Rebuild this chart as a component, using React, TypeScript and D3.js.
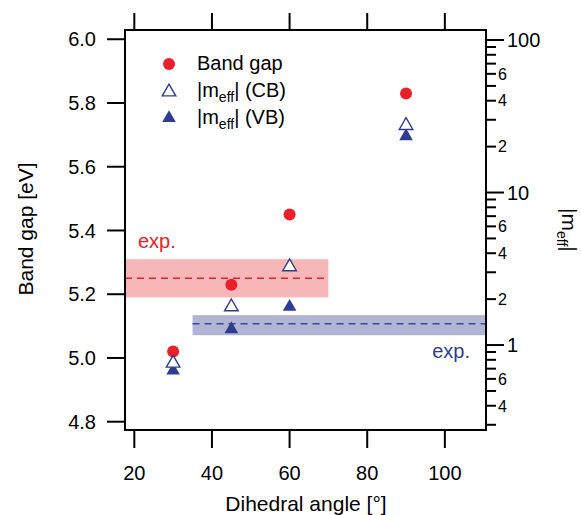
import React from "react";
import * as d3 from "d3";

const angles = [30, 45, 60, 90];
const bandGap = [5.02, 5.23, 5.45, 5.83];
const meffCB = [0.76, 1.78, 3.26, 27.5];
const meffVB = [0.68, 1.27, 1.78, 23.4];
const leftTicks = [4.8, 5.0, 5.2, 5.4, 5.6, 5.8, 6.0];
const bottomTicks = [20, 40, 60, 80, 100];
const rightMajor = [1, 10, 100];
const rightMinor = [0.3, 0.4, 0.5, 0.6, 0.7, 0.8, 0.9, 2, 3, 4, 5, 6, 7, 8, 9, 20, 30, 40, 50, 60, 70, 80, 90];
const rightMinorLabeled = [0.4, 0.6, 2, 4, 6, 20, 40, 60];
const expGap = { center: 5.25, lo: 5.19, hi: 5.31, xFrom: 0, xTo: 70 };
const expMeff = { center: 1.38, lo: 1.16, hi: 1.57, xFrom: 35, xTo: 120 };

const RED = "#e8202a";
const BLUE = "#2f3d8f";
const FONT = "'Liberation Sans', Arial, Helvetica, sans-serif";

export default function App() {
  const L = 125, R = 486, T = 30, B = 430;
  const x = d3.scaleLinear().domain([17.6, 110.6]).range([L, R]);
  const y = d3.scaleLinear().domain([4.774, 6.029]).range([B, T]);
  const yr = d3.scaleLog().domain([10 ** -0.557, 10 ** 2.0656]).range([B, T]);
  const tri = d3.symbol().type(d3.symbolTriangle).size(80)();
  const clampX = (v: number) => Math.max(L, Math.min(R, x(v)));

  const minorLabel = (v: number) => {
    const e = Math.floor(Math.log10(v) + 1e-9);
    return String(Math.round(v / 10 ** e));
  };

  return (
    <svg width={581} height={515} style={{ position: "absolute", left: 0, top: 0 }} fontFamily={FONT}>
      <rect width={581} height={515} fill="#fff" />
      {/* bands */}
      <rect x={clampX(expGap.xFrom)} y={y(expGap.hi)} width={clampX(expGap.xTo) - clampX(expGap.xFrom)} height={y(expGap.lo) - y(expGap.hi)} fill="#f7b7b9" />
      <line x1={clampX(expGap.xFrom)} x2={clampX(expGap.xTo)} y1={y(expGap.center)} y2={y(expGap.center)} stroke={RED} strokeWidth={1.5} strokeDasharray="7,5" />
      <rect x={clampX(expMeff.xFrom)} y={yr(expMeff.hi)} width={clampX(expMeff.xTo) - clampX(expMeff.xFrom)} height={yr(expMeff.lo) - yr(expMeff.hi)} fill="#b2b4d4" />
      <line x1={clampX(expMeff.xFrom)} x2={clampX(expMeff.xTo)} y1={yr(expMeff.center)} y2={yr(expMeff.center)} stroke="#3a4a9a" strokeWidth={1.5} strokeDasharray="7,5" />
      <text x={138} y={248} fontSize={20} fill={RED}>exp.</text>
      <text x={470} y={358} fontSize={20} fill={BLUE} textAnchor="end">exp.</text>

      {/* markers */}
      {angles.map((a, i) => (
        <g key={i}>
          <circle cx={x(a)} cy={y(bandGap[i])} r={6} fill={RED} />
          <path d={tri} transform={`translate(${x(a)},${yr(meffVB[i])})`} fill={BLUE} />
          <path d={tri} transform={`translate(${x(a)},${yr(meffCB[i])})`} fill="#fff" stroke={BLUE} strokeWidth={1.4} />
        </g>
      ))}

      {/* frame */}
      <rect x={L} y={T} width={R - L} height={B - T} fill="none" stroke="#000" strokeWidth={2} />

      {/* left axis */}
      {leftTicks.map((v) => (
        <g key={v}>
          <line x1={107} x2={L} y1={y(v)} y2={y(v)} stroke="#000" strokeWidth={2} />
          <text x={96} y={y(v)} dy="0.36em" fontSize={20} textAnchor="end">{v.toFixed(1)}</text>
        </g>
      ))}
      {/* bottom / top */}
      {bottomTicks.map((v) => (
        <g key={v}>
          <line x1={x(v)} x2={x(v)} y1={B} y2={448} stroke="#000" strokeWidth={2} />
          <line x1={x(v)} x2={x(v)} y1={T} y2={13} stroke="#000" strokeWidth={2} />
          <text x={x(v)} y={480} fontSize={20} textAnchor="middle">{v}</text>
        </g>
      ))}
      {/* right axis */}
      {rightMajor.map((v) => (
        <g key={v}>
          <line x1={R} x2={504} y1={yr(v)} y2={yr(v)} stroke="#000" strokeWidth={2} />
          <text x={507} y={yr(v)} dy="0.36em" fontSize={20}>{v}</text>
        </g>
      ))}
      {rightMinor.map((v) => (
        <line key={v} x1={R} x2={496} y1={yr(v)} y2={yr(v)} stroke="#000" strokeWidth={2} />
      ))}
      {rightMinorLabeled.map((v) => (
        <text key={v} x={498} y={yr(v)} dy="0.36em" fontSize={16}>{minorLabel(v)}</text>
      ))}

      {/* axis titles */}
      <text transform="translate(33,229) rotate(-90)" fontSize={21} textAnchor="middle">Band gap [eV]</text>
      <text x={306} y={511} fontSize={21} textAnchor="middle">Dihedral angle [°]</text>
      <text transform="translate(562,208) rotate(90)" fontSize={21}>
        |m<tspan fontSize={14} dy={5}>eff</tspan><tspan dy={-5}>|</tspan>
      </text>

      {/* legend */}
      <circle cx={169} cy={64} r={6} fill={RED} />
      <text x={197} y={70} fontSize={20}>Band gap</text>
      <path d={tri} transform="translate(169,92)" fill="#fff" stroke={BLUE} strokeWidth={1.4} />
      <text x={197} y={97} fontSize={20}>|m<tspan fontSize={14} dy={5}>eff</tspan><tspan dy={-5}>| (CB)</tspan></text>
      <path d={tri} transform="translate(169,118)" fill={BLUE} />
      <text x={197} y={124} fontSize={20}>|m<tspan fontSize={14} dy={5}>eff</tspan><tspan dy={-5}>| (VB)</tspan></text>
    </svg>
  );
}
